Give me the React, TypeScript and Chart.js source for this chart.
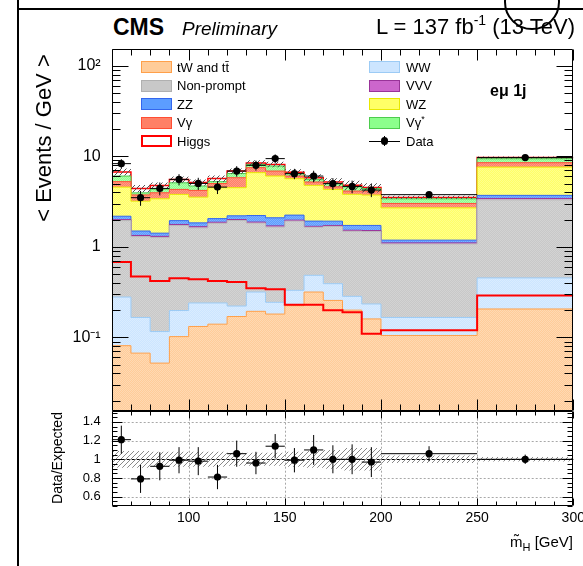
import React, { useEffect, useRef } from 'react';
import { Chart, registerables } from 'chart.js';

Chart.register(...registerables);

const FONT = '"Liberation Sans", Arial, Helvetica, sans-serif';

// ---------- data ----------
const binEdges = [60, 70, 80, 90, 100, 110, 120, 130, 140, 150, 160, 170, 180, 190, 200, 250, 300];
const binCenters = [65, 75, 85, 95, 105, 115, 125, 135, 145, 155, 165, 175, 185, 195, 225, 275];
const binHalfWidths = [5, 5, 5, 5, 5, 5, 5, 5, 5, 5, 5, 5, 5, 5, 25, 25];

const ttbarTW = [0.081, 0.067, 0.052, 0.102, 0.132, 0.14, 0.17, 0.194, 0.181, 0.224, 0.317, 0.256, 0.2, 0.16, 0.105, 0.206];
const ww = [0.198, 0.099, 0.064, 0.096, 0.108, 0.1, 0.052, 0.123, 0.063, 0.107, 0.168, 0.136, 0.084, 0.074, 0.061, 0.248];
const nonPrompt = [1.67, 1.13, 1.15, 1.52, 1.38, 1.58, 1.73, 1.51, 1.41, 1.59, 1.16, 1.29, 1.2, 1.24, 0.91, 2.85];
const vvv = [0.05, 0.04, 0.04, 0.05, 0.05, 0.05, 0.05, 0.05, 0.05, 0.05, 0.04, 0.04, 0.04, 0.04, 0.03, 0.12];
const zz = [0.18, 0.16, 0.11, 0.18, 0.17, 0.18, 0.2, 0.34, 0.39, 0.27, 0.24, 0.2, 0.2, 0.21, 0.08, 0.28];
const wz = [2.39, 1.7, 1.98, 1.85, 1.7, 2.45, 2.3, 4.38, 3.96, 3.42, 2.85, 2.39, 2.08, 2.01, 1.51, 3.9];
const vgamma = [0.68, 0.55, 0.56, 0.51, 0.66, 0.5, 1.3, 0.9, 0.82, 0.39, 0.43, 0.29, 0.33, 0.4, 0.32, 0.9];
const vgammaStar = [0.8, 0.2, 0.39, 0.79, 0.5, 0.25, 0.65, 0.6, 0.93, 0.4, 0.36, 0.4, 0.47, 0.27, 0.38, 0.9];
const higgs = [0.68, 0.47, 0.42, 0.45, 0.44, 0.42, 0.41, 0.35, 0.34, 0.23, 0.23, 0.2, 0.19, 0.11, 0.12, 0.29];

const dataVals = [8.3, 3.49, 4.42, 5.56, 5.02, 4.57, 6.87, 7.95, 9.43, 6.43, 6.05, 4.99, 4.65, 4.24, 3.77, 9.68];
const dataErr = [1.0, 0.65, 0.72, 0.79, 0.77, 0.74, 0.91, 1.0, 1.07, 0.84, 0.88, 0.75, 0.74, 0.7, 0.28, 0.48];

const ratioVals = [1.21, 0.79, 0.925, 0.99, 0.98, 0.81, 1.06, 0.96, 1.14, 0.99, 1.1, 1.0, 1.0, 0.97, 1.06, 1.0];
const ratioErr = [0.15, 0.15, 0.15, 0.14, 0.15, 0.13, 0.14, 0.12, 0.13, 0.13, 0.16, 0.15, 0.16, 0.16, 0.08, 0.05];
const systUnc = [0.09, 0.09, 0.08, 0.08, 0.08, 0.08, 0.07, 0.07, 0.07, 0.08, 0.09, 0.1, 0.12, 0.12, 0.04, 0.025];

const mainYTicks = [0.1, 1, 10, 100];
const mainYLabels = ['10\u207B\u00B9', '1', '10', '10\u00B2'];
const ratioYTicks = [0.6, 0.8, 1, 1.2, 1.4];
const xTicks = [100, 150, 200, 250, 300];

// stacking order bottom -> top
const layers = [
  { key: 'tw', vals: ttbarTW, c1: '#FFCC99', c2: '#FFD9B3', border: '#FFA04A' },
  { key: 'ww', vals: ww, c1: '#CCE5FF', c2: '#DAECFF', border: '#9CCBF5' },
  { key: 'np', vals: nonPrompt, c1: '#C8C8C8', c2: '#D3D3D3', border: '#B8B8B8' },
  { key: 'vvv', vals: vvv, c1: '#CC66CC', c2: '#D98CD9', border: '#993399' },
  { key: 'zz', vals: zz, c1: '#5C9DFF', c2: '#80B3FF', border: '#3366EE' },
  { key: 'wz', vals: wz, c1: '#FFFF66', c2: '#FFFF8C', border: '#E8E800' },
  { key: 'vg', vals: vgamma, c1: '#FF8066', c2: '#FF9C88', border: '#FF4D33' },
  { key: 'vgs', vals: vgammaStar, c1: '#8CFF8C', c2: '#B0FFB0', border: '#4DCC4D' },
];

// ---------- helpers ----------
function steps(vals: number[]) {
  const pts = vals.map((v, i) => ({ x: binEdges[i], y: v }));
  pts.push({ x: binEdges[binEdges.length - 1], y: vals[vals.length - 1] });
  return pts;
}

function errorSegments(vals: number[], errs: number[]) {
  const pts: { x: number; y: number | null }[] = [];
  vals.forEach((v, i) => {
    const c = binCenters[i];
    const h = binHalfWidths[i];
    pts.push({ x: c, y: v - errs[i] }, { x: c, y: v + errs[i] }, { x: c, y: null });
    pts.push({ x: c - h, y: v }, { x: c + h, y: v }, { x: c + h, y: null });
  });
  return pts;
}

function checker(ctx: CanvasRenderingContext2D, c1: string, c2: string) {
  const cv = document.createElement('canvas');
  cv.width = 2;
  cv.height = 2;
  const g = cv.getContext('2d')!;
  g.fillStyle = c1;
  g.fillRect(0, 0, 2, 2);
  g.fillStyle = c2;
  g.fillRect(0, 0, 1, 1);
  g.fillRect(1, 1, 1, 1);
  return ctx.createPattern(cv, 'repeat')!;
}

function hatch(ctx: CanvasRenderingContext2D, color: string, size: number) {
  const cv = document.createElement('canvas');
  cv.width = size;
  cv.height = size;
  const g = cv.getContext('2d')!;
  g.strokeStyle = color;
  g.lineWidth = 1;
  g.beginPath();
  g.moveTo(0, size);
  g.lineTo(size, 0);
  g.moveTo(-1, 1);
  g.lineTo(1, -1);
  g.moveTo(size - 1, size + 1);
  g.lineTo(size + 1, size - 1);
  g.stroke();
  return ctx.createPattern(cv, 'repeat')!;
}

type FrameCfg = {
  kind: 'main' | 'ratio';
};

function makeFramePlugin(cfg: FrameCfg) {
  return {
    id: 'rootFrame',
    beforeDatasetsDraw(chart: any) {
      if (cfg.kind !== 'ratio') return;
      const { ctx, chartArea: a, scales } = chart;
      const x = scales.x;
      const y = scales.y;
      ctx.save();
      ctx.lineWidth = 1;
      ctx.strokeStyle = '#A8A8A8';
      ctx.setLineDash([2, 2]);
      ctx.beginPath();
      ratioYTicks.forEach((v) => {
        if (v === 1) return;
        const py = Math.round(y.getPixelForValue(v)) + 0.5;
        ctx.moveTo(a.left, py);
        ctx.lineTo(a.right, py);
      });
      xTicks.forEach((v) => {
        if (v >= 300) return;
        const px = Math.round(x.getPixelForValue(v)) + 0.5;
        ctx.moveTo(px, a.top);
        ctx.lineTo(px, a.bottom);
      });
      ctx.stroke();
      ctx.strokeStyle = '#000';
      ctx.setLineDash([3, 2]);
      ctx.beginPath();
      const p1 = Math.round(y.getPixelForValue(1)) + 0.5;
      ctx.moveTo(a.left, p1);
      ctx.lineTo(a.right, p1);
      ctx.stroke();
      ctx.restore();
    },
    afterDatasetsDraw(chart: any) {
      const { ctx, chartArea: a, scales } = chart;
      const x = scales.x;
      const y = scales.y;
      ctx.save();
      ctx.strokeStyle = '#000';
      ctx.lineWidth = 1;
      const L = Math.round(a.left) + 0.5;
      const R = Math.round(a.right) - 0.5;
      const T = Math.round(a.top) + 0.5;
      const B = Math.round(a.bottom) - 0.5;
      ctx.beginPath();
      ctx.rect(L, T, R - L, B - T);
      ctx.stroke();
      ctx.beginPath();
      const xMaj = cfg.kind === 'main' ? 11 : 7;
      const xMin = cfg.kind === 'main' ? 6 : 4;
      for (let v = 60; v <= 300; v += 10) {
        const px = Math.round(x.getPixelForValue(v)) + 0.5;
        const len = v % 50 === 0 ? xMaj : xMin;
        ctx.moveTo(px, B);
        ctx.lineTo(px, B - len);
        ctx.moveTo(px, T);
        ctx.lineTo(px, T + len);
      }
      if (cfg.kind === 'main') {
        for (let d = -2; d <= 2; d++) {
          for (let m = 1; m <= 9; m++) {
            const v = m * Math.pow(10, d);
            if (v < y.min || v > y.max) continue;
            const py = Math.round(y.getPixelForValue(v)) + 0.5;
            const len = m === 1 ? 16 : 8;
            ctx.moveTo(L, py);
            ctx.lineTo(L + len, py);
            ctx.moveTo(R, py);
            ctx.lineTo(R - len, py);
          }
        }
      } else {
        for (let k = 10; k <= 30; k++) {
          const v = k * 0.05;
          if (v < y.min || v > y.max) continue;
          const py = Math.round(y.getPixelForValue(v)) + 0.5;
          const len = k % 4 === 0 ? 10 : 5;
          ctx.moveTo(L, py);
          ctx.lineTo(L + len, py);
          ctx.moveTo(R, py);
          ctx.lineTo(R - len, py);
        }
      }
      ctx.stroke();
      ctx.restore();
    },
  };
}

// ---------- text helpers ----------
const ASC = 0.8465;
function Txt(props: { x: number; y: number; size: number; bold?: boolean; italic?: boolean; right?: boolean; children: any }) {
  const { x, y, size, bold, italic, right, children } = props;
  const style: any = {
    position: 'absolute',
    top: y - ASC * size,
    fontSize: size,
    lineHeight: `${size}px`,
    fontWeight: bold ? 'bold' : 'normal',
    fontStyle: italic ? 'italic' : 'normal',
    whiteSpace: 'nowrap',
    color: '#000',
  };
  if (right) style.right = 583 - x;
  else style.left = x;
  return <div style={style}>{children}</div>;
}

function VTxt(props: { cx: number; cy: number; size: number; w: number; children: any }) {
  const { cx, cy, size, w, children } = props;
  return (
    <div
      style={{
        position: 'absolute',
        left: cx - w / 2,
        top: cy - size / 2,
        width: w,
        height: size,
        lineHeight: `${size}px`,
        fontSize: size,
        textAlign: 'center',
        whiteSpace: 'nowrap',
        transform: 'rotate(-90deg)',
        transformOrigin: 'center center',
        color: '#000',
      }}
    >
      {children}
    </div>
  );
}

const legendRows = [67, 85.5, 104, 122.5, 141];

function Swatch(props: { x: number; cy: number; fill: string; border: string; bw?: number }) {
  const { x, cy, fill, border, bw } = props;
  return (
    <div
      style={{
        position: 'absolute',
        left: x,
        top: cy - 6,
        width: 31,
        height: 12,
        background: fill,
        border: `${bw || 1}px solid ${border}`,
        boxSizing: 'border-box',
      }}
    />
  );
}

export default function App() {
  const mainRef = useRef<HTMLCanvasElement>(null);
  const ratioRef = useRef<HTMLCanvasElement>(null);

  useEffect(() => {
    const mc = mainRef.current!;
    const rc = ratioRef.current!;
    const mctx = mc.getContext('2d')!;
    const rctx = rc.getContext('2d')!;

    // cumulative stack tops
    const cum: number[][] = [];
    let run = binCenters.map(() => 0);
    layers.forEach((l) => {
      run = run.map((r, i) => r + l.vals[i]);
      cum.push(run.slice());
    });
    const total = run.map((r, i) => r + higgs[i]);

    const stackSets: any[] = layers.map((l, i) => ({
      type: 'line',
      data: steps(cum[i]),
      stepped: true,
      borderColor: l.border,
      borderWidth: 1,
      backgroundColor: checker(mctx, l.c1, l.c2),
      fill: i === 0 ? 'start' : '-1',
      pointRadius: 0,
      order: 10 + i,
    }));
    stackSets.push({
      type: 'line',
      data: steps(total),
      stepped: true,
      borderColor: '#FF0000',
      borderWidth: 1.5,
      fill: false,
      pointRadius: 0,
      order: 20,
    });
    const bandLo = total.map((t, i) => t * (1 - systUnc[i]));
    const bandHi = total.map((t, i) => t * (1 + systUnc[i]));
    const mainSets: any[] = [
      ...stackSets,
      { type: 'line', data: steps(bandLo), stepped: true, borderWidth: 0, borderColor: 'rgba(0,0,0,0)', fill: false, pointRadius: 0, order: 4 },
      {
        type: 'line',
        data: steps(bandHi),
        stepped: true,
        borderWidth: 0,
        borderColor: 'rgba(0,0,0,0)',
        backgroundColor: hatch(mctx, '#555555', 5),
        fill: '-1',
        pointRadius: 0,
        order: 3,
      },
      { type: 'line', data: steps(higgs), stepped: true, borderColor: '#FF0000', borderWidth: 2, fill: false, pointRadius: 0, order: 2 },
      { type: 'line', data: errorSegments(dataVals, dataErr), borderColor: '#000', borderWidth: 1, fill: false, pointRadius: 0, spanGaps: false, order: 1 },
      {
        type: 'line',
        data: dataVals.map((v, i) => ({ x: binCenters[i], y: v })),
        showLine: false,
        pointRadius: 3.6,
        pointBackgroundColor: '#000',
        pointBorderColor: '#000',
        pointBorderWidth: 0,
        order: 0,
      },
    ];

    const main = new Chart(mc, {
      type: 'line',
      data: { datasets: mainSets },
      options: {
        animation: false,
        responsive: false,
        maintainAspectRatio: false,
        events: [],
        layout: { padding: { left: 0, right: 9.7, top: 9.3, bottom: 9.3 } },
        plugins: { legend: { display: false }, tooltip: { enabled: false } },
        scales: {
          x: { type: 'linear', min: 60, max: 300, display: false },
          y: {
            type: 'logarithmic',
            min: 0.0155,
            max: 152,
            grid: { display: false, drawTicks: false },
            border: { display: false },
            ticks: {
              color: '#000',
              padding: 11,
              font: { family: FONT, size: 16 },
              callback: (v: any) => {
                const idx = mainYTicks.indexOf(Number(v));
                return idx >= 0 ? mainYLabels[idx] : '';
              },
            },
            afterBuildTicks: (s: any) => {
              s.ticks = mainYTicks.map((v) => ({ value: v }));
            },
            afterFit: (s: any) => {
              s.width = 111.7;
              s.paddingTop = 0;
              s.paddingBottom = 0;
            },
          },
        },
      } as any,
      plugins: [makeFramePlugin({ kind: 'main' })],
    } as any);

    const rLo = ratioVals.map((_, i) => 1 - systUnc[i]);
    const rHi = ratioVals.map((_, i) => 1 + systUnc[i]);
    const ratioSets: any[] = [
      { type: 'line', data: steps(rLo), stepped: true, borderWidth: 0, borderColor: 'rgba(0,0,0,0)', fill: false, pointRadius: 0, order: 4 },
      {
        type: 'line',
        data: steps(rHi),
        stepped: true,
        borderWidth: 0,
        borderColor: 'rgba(0,0,0,0)',
        backgroundColor: hatch(rctx, '#8A8A8A', 5),
        fill: '-1',
        pointRadius: 0,
        order: 3,
      },
      { type: 'line', data: errorSegments(ratioVals, ratioErr), borderColor: '#000', borderWidth: 1, fill: false, pointRadius: 0, spanGaps: false, order: 1 },
      {
        type: 'line',
        data: ratioVals.map((v, i) => ({ x: binCenters[i], y: v })),
        showLine: false,
        pointRadius: 3.6,
        pointBackgroundColor: '#000',
        pointBorderColor: '#000',
        pointBorderWidth: 0,
        order: 0,
      },
    ];

    const ratio = new Chart(rc, {
      type: 'line',
      data: { datasets: ratioSets },
      options: {
        animation: false,
        responsive: false,
        maintainAspectRatio: false,
        events: [],
        layout: { padding: { left: 0, right: 9.7, top: 10.7, bottom: 30 } },
        plugins: { legend: { display: false }, tooltip: { enabled: false } },
        scales: {
          x: {
            type: 'linear',
            min: 60,
            max: 300,
            grid: { display: false, drawTicks: false },
            border: { display: false },
            ticks: {
              color: '#000',
              padding: 4,
              maxRotation: 0,
              autoSkip: false,
              font: { family: FONT, size: 14 },
              callback: (v: any) => String(v),
            },
            afterBuildTicks: (s: any) => {
              s.ticks = xTicks.map((v) => ({ value: v }));
            },
            afterFit: (s: any) => {
              s.height = 30;
              s.paddingLeft = 0;
              s.paddingRight = 0;
            },
          },
          y: {
            type: 'linear',
            min: 0.5,
            max: 1.52,
            grid: { display: false, drawTicks: false },
            border: { display: false },
            ticks: {
              color: '#000',
              padding: 11,
              font: { family: FONT, size: 13 },
              callback: (v: any) => String(v),
            },
            afterBuildTicks: (s: any) => {
              s.ticks = ratioYTicks.map((v) => ({ value: v }));
            },
            afterFit: (s: any) => {
              s.width = 111.7;
              s.paddingTop = 0;
              s.paddingBottom = 0;
            },
          },
        },
      } as any,
      plugins: [makeFramePlugin({ kind: 'ratio' })],
    } as any);

    return () => {
      main.destroy();
      ratio.destroy();
    };
  }, []);

  const leftX = 141;
  const rightX = 369;

  return (
    <div
      style={{
        position: 'absolute',
        left: 0,
        top: 0,
        width: 583,
        height: 566,
        overflow: 'hidden',
        background: '#fff',
        fontFamily: FONT,
      }}
    >
      <canvas ref={mainRef} width={583} height={380} style={{ position: 'absolute', left: 0, top: 40, width: 583, height: 380 }} />
      <canvas ref={ratioRef} width={583} height={166} style={{ position: 'absolute', left: 0, top: 400, width: 583, height: 166 }} />

      {/* page frame pieces */}
      <div style={{ position: 'absolute', left: 17, top: 0, width: 2, height: 566, background: '#000' }} />
      <div style={{ position: 'absolute', left: 17, top: 8, width: 566, height: 2, background: '#000' }} />
      <div
        style={{
          position: 'absolute',
          left: 504,
          top: -26,
          width: 56,
          height: 56,
          border: '2px solid #000',
          borderRadius: '50%',
          boxSizing: 'border-box',
        }}
      />

      {/* header */}
      <Txt x={113} y={35} size={23} bold>CMS</Txt>
      <Txt x={182} y={35} size={19} italic>Preliminary</Txt>
      <Txt x={575} y={35} size={22} right>
        L = 137 fb
        <span style={{ fontSize: 14, position: 'relative', top: -9 }}>-1</span> (13 TeV)
      </Txt>

      {/* axis titles */}
      <VTxt cx={44} cy={138} size={22} w={220}>
        {'< Events / GeV >'}
      </VTxt>
      <VTxt cx={57} cy={458} size={14} w={120}>
        Data/Expected
      </VTxt>
      <Txt x={573} y={547} size={15} right>
        {'m\u0303'}
        <span style={{ fontSize: 11, position: 'relative', top: 4 }}>H</span> [GeV]
      </Txt>

      {/* legend left column */}
      <Swatch x={leftX} cy={legendRows[0]} fill="#FFCC99" border="#FFA04A" />
      <Txt x={177} y={legendRows[0] + 4.7} size={13}>{'tW and t\u0074\u0304'}</Txt>
      <Swatch x={leftX} cy={legendRows[1]} fill="#C8C8C8" border="#B0B0B0" />
      <Txt x={177} y={legendRows[1] + 4.7} size={13}>Non-prompt</Txt>
      <Swatch x={leftX} cy={legendRows[2]} fill="#5C9DFF" border="#3366EE" />
      <Txt x={177} y={legendRows[2] + 4.7} size={13}>ZZ</Txt>
      <Swatch x={leftX} cy={legendRows[3]} fill="#FF8066" border="#FF4D33" />
      <Txt x={177} y={legendRows[3] + 4.7} size={13}>{'V\u03B3'}</Txt>
      <Swatch x={leftX} cy={legendRows[4]} fill="#FFFFFF" border="#FF0000" bw={2} />
      <Txt x={177} y={legendRows[4] + 4.7} size={13}>Higgs</Txt>

      {/* legend right column */}
      <Swatch x={rightX} cy={legendRows[0]} fill="#CCE5FF" border="#9CCBF5" />
      <Txt x={406} y={legendRows[0] + 4.7} size={13}>WW</Txt>
      <Swatch x={rightX} cy={legendRows[1]} fill="#CC66CC" border="#993399" />
      <Txt x={406} y={legendRows[1] + 4.7} size={13}>VVV</Txt>
      <Swatch x={rightX} cy={legendRows[2]} fill="#FFFF66" border="#E8E800" />
      <Txt x={406} y={legendRows[2] + 4.7} size={13}>WZ</Txt>
      <Swatch x={rightX} cy={legendRows[3]} fill="#8CFF8C" border="#4DCC4D" />
      <Txt x={406} y={legendRows[3] + 4.7} size={13}>
        {'V\u03B3'}
        <span style={{ fontSize: 9, position: 'relative', top: -5 }}>*</span>
      </Txt>
      <div style={{ position: 'absolute', left: rightX, top: legendRows[4] - 0.5, width: 31, height: 1, background: '#000' }} />
      <div style={{ position: 'absolute', left: rightX + 15, top: legendRows[4] - 5, width: 1, height: 10, background: '#000' }} />
      <div
        style={{
          position: 'absolute',
          left: rightX + 15.5 - 3.6,
          top: legendRows[4] - 3.6,
          width: 7.2,
          height: 7.2,
          borderRadius: '50%',
          background: '#000',
        }}
      />
      <Txt x={406} y={legendRows[4] + 4.7} size={13}>Data</Txt>

      <Txt x={490} y={97} size={16} bold>{'e\u03BC 1j'}</Txt>
    </div>
  );
}
